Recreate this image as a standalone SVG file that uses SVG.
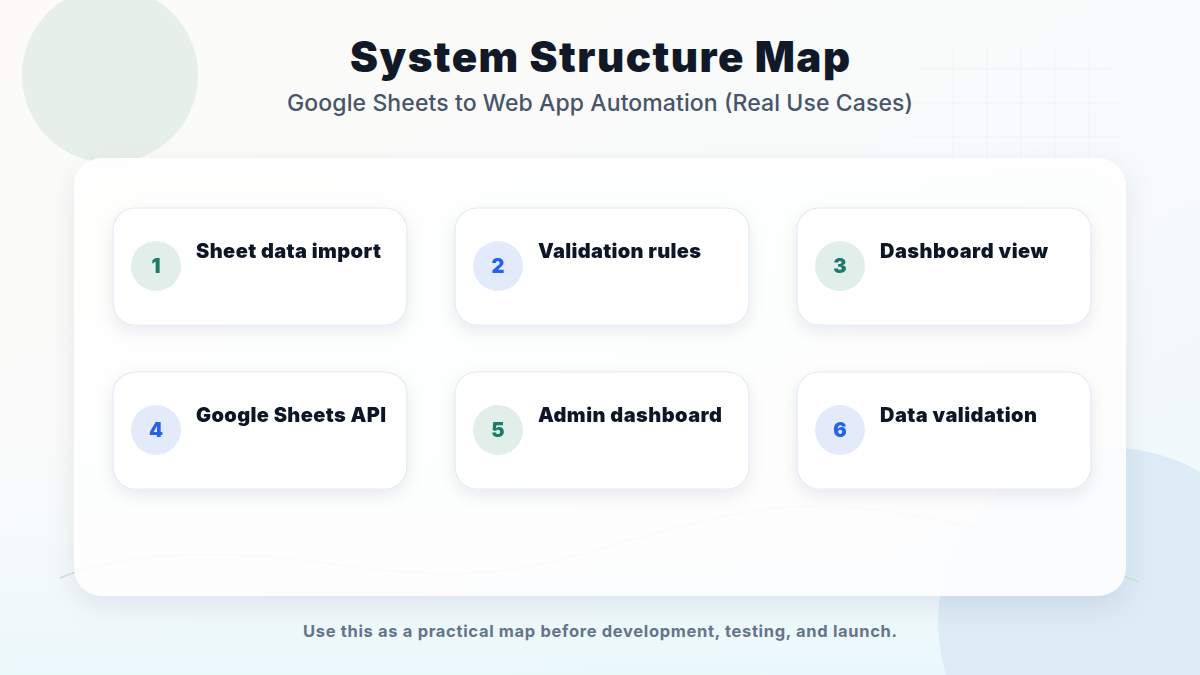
<svg xmlns="http://www.w3.org/2000/svg" width="1200" height="675" viewBox="0 0 1200 675">
<defs>
<linearGradient id="bg" x1="0" y1="0" x2="1" y2="1">
<stop offset="0" stop-color="#fcfbf7"/>
<stop offset="0.5" stop-color="#f8fafb"/>
<stop offset="1" stop-color="#eef8fb"/>
</linearGradient>
<linearGradient id="bgbottom" x1="0" y1="0" x2="0" y2="1">
<stop offset="0" stop-color="#f0f9fb" stop-opacity="0"/>
<stop offset="1" stop-color="#eaf8fb" stop-opacity="0.9"/>
</linearGradient>
<filter id="cardShadow" x="-10%" y="-10%" width="120%" height="130%">
<feDropShadow dx="0" dy="10" stdDeviation="14" flood-color="#0f172a" flood-opacity="0.09"/>
</filter>
<filter id="nodeShadow" x="-15%" y="-20%" width="130%" height="150%">
<feDropShadow dx="0" dy="6" stdDeviation="8" flood-color="#1e293b" flood-opacity="0.08"/>
</filter>
<style>
.node rect{fill:#ffffff;stroke:#e1e9f7;stroke-width:1.2}
.label{font-family:Inter,"Noto Sans","Liberation Sans",sans-serif;font-weight:900;font-size:20px;fill:#111827}
.num{font-family:Inter,"Noto Sans","Liberation Sans",sans-serif;font-weight:900;font-size:20px;text-anchor:middle}
.teal circle{fill:#e2eeea}
.teal .num{fill:#1f7a68}
.blue circle{fill:#e3ebfb}
.blue .num{fill:#2563eb}
.grid line{stroke:#f0f3f6;stroke-width:1}
</style>
</defs>
<rect width="1200" height="675" fill="url(#bg)"/>
<rect y="440" width="1200" height="235" fill="url(#bgbottom)"/>
<circle cx="110" cy="75" r="88" fill="#e7efeb"/>
<circle cx="1112" cy="622" r="174" fill="#dcebf6"/>
<g class="grid">
<line x1="953" y1="48" x2="953" y2="160"/>
<line x1="987" y1="48" x2="987" y2="160"/>
<line x1="1021" y1="48" x2="1021" y2="160"/>
<line x1="1055" y1="48" x2="1055" y2="160"/>
<line x1="1089" y1="48" x2="1089" y2="160"/>
<line x1="918" y1="69" x2="1110" y2="69"/>
<line x1="910" y1="103" x2="1120" y2="103"/>
<line x1="910" y1="137" x2="1120" y2="137"/>
</g>
<text x="600" y="72" text-anchor="middle" font-family="Inter,'Noto Sans','Liberation Sans',sans-serif" font-weight="900" font-size="42" fill="#111827" textLength="500">System Structure Map</text>
<text x="600" y="111" text-anchor="middle" font-family="Inter,'Noto Sans','Liberation Sans',sans-serif" font-weight="500" font-size="23" fill="#475569" textLength="626">Google Sheets to Web App Automation (Real Use Cases)</text>
<g id="connectors">
<path d="M60,578 C110,556 200,548 300,560 C380,570 460,585 560,560 C650,535 740,505 820,506 C930,508 1050,545 1138,582" fill="none" stroke="#cfe0dc" stroke-width="1.5"/>
</g>
<rect x="74" y="158" width="1052" height="438" rx="28" fill="#ffffff" fill-opacity="0.88" filter="url(#cardShadow)"/>
<g id="node1" class="node teal" filter="url(#nodeShadow)">
<rect x="113" y="208" width="294" height="117" rx="22"/>
<circle cx="156" cy="266" r="25"/>
<text class="num" x="156" y="273">1</text>
<text class="label" x="196" y="258" textLength="185">Sheet data import</text>
</g>
<g id="node2" class="node blue" filter="url(#nodeShadow)">
<rect x="455" y="208" width="294" height="117" rx="22"/>
<circle cx="498" cy="266" r="25"/>
<text class="num" x="498" y="273">2</text>
<text class="label" x="538" y="258" textLength="163">Validation rules</text>
</g>
<g id="node3" class="node teal" filter="url(#nodeShadow)">
<rect x="797" y="208" width="294" height="117" rx="22"/>
<circle cx="840" cy="266" r="25"/>
<text class="num" x="840" y="273">3</text>
<text class="label" x="880" y="258" textLength="168">Dashboard view</text>
</g>
<g id="node4" class="node blue" filter="url(#nodeShadow)">
<rect x="113" y="372" width="294" height="117" rx="22"/>
<circle cx="156" cy="430" r="25"/>
<text class="num" x="156" y="437">4</text>
<text class="label" x="196" y="422" textLength="190">Google Sheets API</text>
</g>
<g id="node5" class="node teal" filter="url(#nodeShadow)">
<rect x="455" y="372" width="294" height="117" rx="22"/>
<circle cx="498" cy="430" r="25"/>
<text class="num" x="498" y="437">5</text>
<text class="label" x="538" y="422" textLength="184">Admin dashboard</text>
</g>
<g id="node6" class="node blue" filter="url(#nodeShadow)">
<rect x="797" y="372" width="294" height="117" rx="22"/>
<circle cx="840" cy="430" r="25"/>
<text class="num" x="840" y="437">6</text>
<text class="label" x="880" y="422" textLength="157">Data validation</text>
</g>
<text x="600" y="637" text-anchor="middle" font-family="Inter,'Noto Sans','Liberation Sans',sans-serif" font-weight="700" font-size="16.5" fill="#64748b" textLength="594">Use this as a practical map before development, testing, and launch.</text>
</svg>
